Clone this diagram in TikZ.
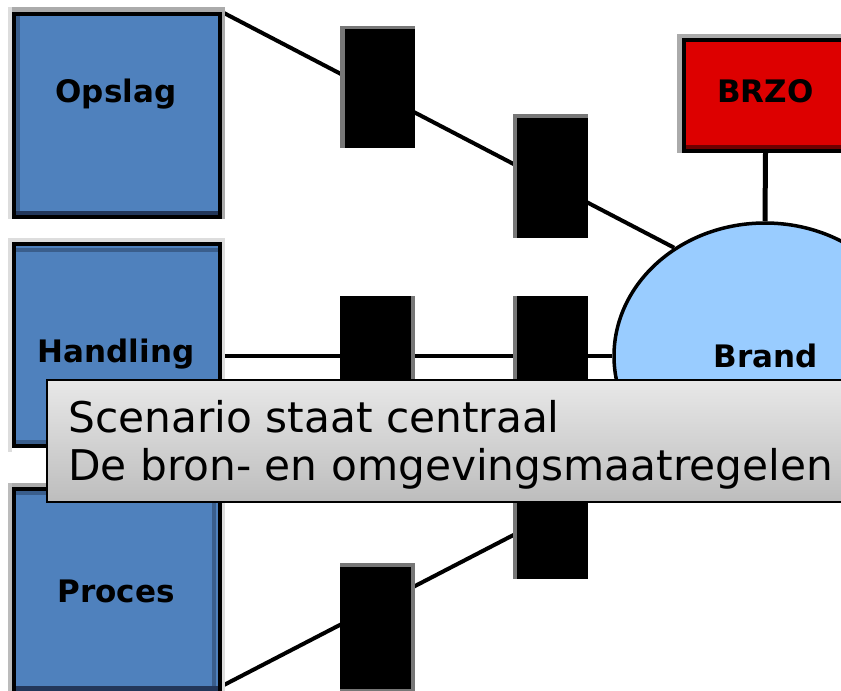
\documentclass[tikz,border=0pt]{standalone}
\usepackage{fontspec}
\setmainfont{DejaVu Sans}
\usetikzlibrary{shapes.geometric}
\definecolor{boxblue}{HTML}{4F81BD}
\definecolor{boxbluedark}{HTML}{23375A}
\definecolor{boxbluemid}{HTML}{3A5E8C}
\definecolor{lightblue}{HTML}{99CCFF}
\definecolor{brzored}{HTML}{DD0000}
\definecolor{brzodark}{HTML}{6E0000}
\definecolor{shadowgrey}{HTML}{ABABAB}
\definecolor{shadowlight}{HTML}{DDDDDD}
\definecolor{rectgrey}{HTML}{777777}
\definecolor{calltop}{HTML}{E8E8E8}
\definecolor{callbot}{HTML}{BDBDBD}
\pgfdeclarelayer{bg}
\pgfsetlayers{bg,main}
\begin{document}
\begin{tikzpicture}[x=1pt,y=-1pt,
  bluebox/.style={draw=black, line width=4pt, fill=boxblue, inner sep=0pt, minimum width=206pt},
  blk/.style={fill=black, draw=none, inner sep=0pt},
  lbl/.style={font=\fontsize{31}{37}\selectfont\bfseries, inner sep=0pt, anchor=base},
  calltxt/.style={font=\fontsize{42.3}{48}\selectfont, inner sep=0pt, anchor=base west},
  conn/.style={draw=black, line width=4pt}]
\clip (0,0) rectangle (841,691);
\useasboundingbox (0,0) rectangle (841,691);

% blue boxes with their bevel strips
\fill[shadowlight] (8,7) rectangle (12,219);
\fill[shadowgrey] (12,7) rectangle (225,12);
\fill[shadowgrey] (222,12) rectangle (225,219);
\node[bluebox, minimum height=203pt] (opslag) at (117,115.5) {};
\fill[boxbluemid] (16,16) rectangle (20,215);
\fill[boxbluedark] (16,211) rectangle (218,215);

\fill[shadowlight] (8,238) rectangle (225,242);
\fill[shadowlight] (8,238) rectangle (12,452);
\fill[shadowlight] (222,238) rectangle (225,448);
\node[bluebox, minimum height=202pt] (handling) at (117,345) {};
\fill[boxbluemid] (16,248) rectangle (218,252);
\fill[boxbluemid] (16,440) rectangle (218,444);

\fill[shadowgrey] (8,483) rectangle (225,487);
\fill[shadowgrey!80] (8,483) rectangle (12,700);
\fill[shadowlight] (222,487) rectangle (225,700);
\node[bluebox, minimum height=207pt] (proces) at (117,592.5) {};
\fill[boxbluemid] (16,491) rectangle (218,495);
\fill[boxbluemid] (212,491) rectangle (216,691);
\fill[boxbluedark] (16,686) rectangle (218,691);

\node[lbl] (topslag) at (116,102) {Opslag};
\node[lbl] (thandling) at (116,362) {Handling};
\node[lbl] (tproces) at (116,602) {Proces};

% black blocks
\fill[rectgrey] (340,26) rectangle (415,148);
\node[blk, minimum width=70pt, minimum height=119pt] (r1) at (380,88.5) {};
\fill[rectgrey] (513,114) rectangle (588,238);
\node[blk, minimum width=71pt, minimum height=120pt] (r2) at (552.5,178) {};
\fill[rectgrey] (340,296) rectangle (415,418);
\node[blk, minimum width=71pt, minimum height=122pt] (r3) at (375.5,357) {};
\fill[rectgrey] (513,296) rectangle (588,418);
\node[blk, minimum width=71pt, minimum height=122pt] (r4) at (552.5,357) {};
\fill[rectgrey] (513,457) rectangle (588,579);
\node[blk, minimum width=71pt, minimum height=122pt] (r5) at (552.5,518) {};
\fill[rectgrey] (340,563) rectangle (415,691);
\node[blk, minimum width=71pt, minimum height=122pt] (r6) at (375.5,628) {};

% Brand
\node[ellipse, draw=black, line width=3.5pt, fill=lightblue, inner sep=0pt,
      minimum width=302pt, minimum height=266pt] (brand) at (765,356) {};
\node[lbl] (tbrand) at (765.5,367) {Brand};

% BRZO
\fill[shadowgrey] (677,34) rectangle (850,38);
\fill[shadowgrey] (677,34) rectangle (682,153);
\node[draw=black, line width=4pt, fill=brzored, inner sep=0pt,
      minimum width=163pt, minimum height=111pt] (brzo) at (765.5,95.5) {};
\fill[brzodark] (686,145) rectangle (847,149);
\node[lbl] (tbrzo) at (765.5,102) {BRZO};

% connectors (under everything)
\begin{pgfonlayer}{bg}
\fill[white] (0,0) rectangle (841,691);
\draw[conn] (opslag.north east) -- (brand.130);
\draw[conn] (handling.east |- brand.west) -- (brand.west);
\draw[conn] ([yshift=12pt]proces.south east) -- (brand.225);
\draw[draw=black, line width=5pt] (brzo.south) -- (brand.north);
\end{pgfonlayer}

% callout
\node[draw=black, line width=1.5pt, top color=calltop, bottom color=callbot,
      inner sep=0pt, minimum width=813pt, minimum height=122pt] (callout) at (453.5,441) {};
\node[calltxt] (c1) at (68,432) {Scenario staat centraal};
\node[calltxt] (c2) at (68,480) {De bron- en omgevingsmaatregelen};
\end{tikzpicture}
\end{document}
